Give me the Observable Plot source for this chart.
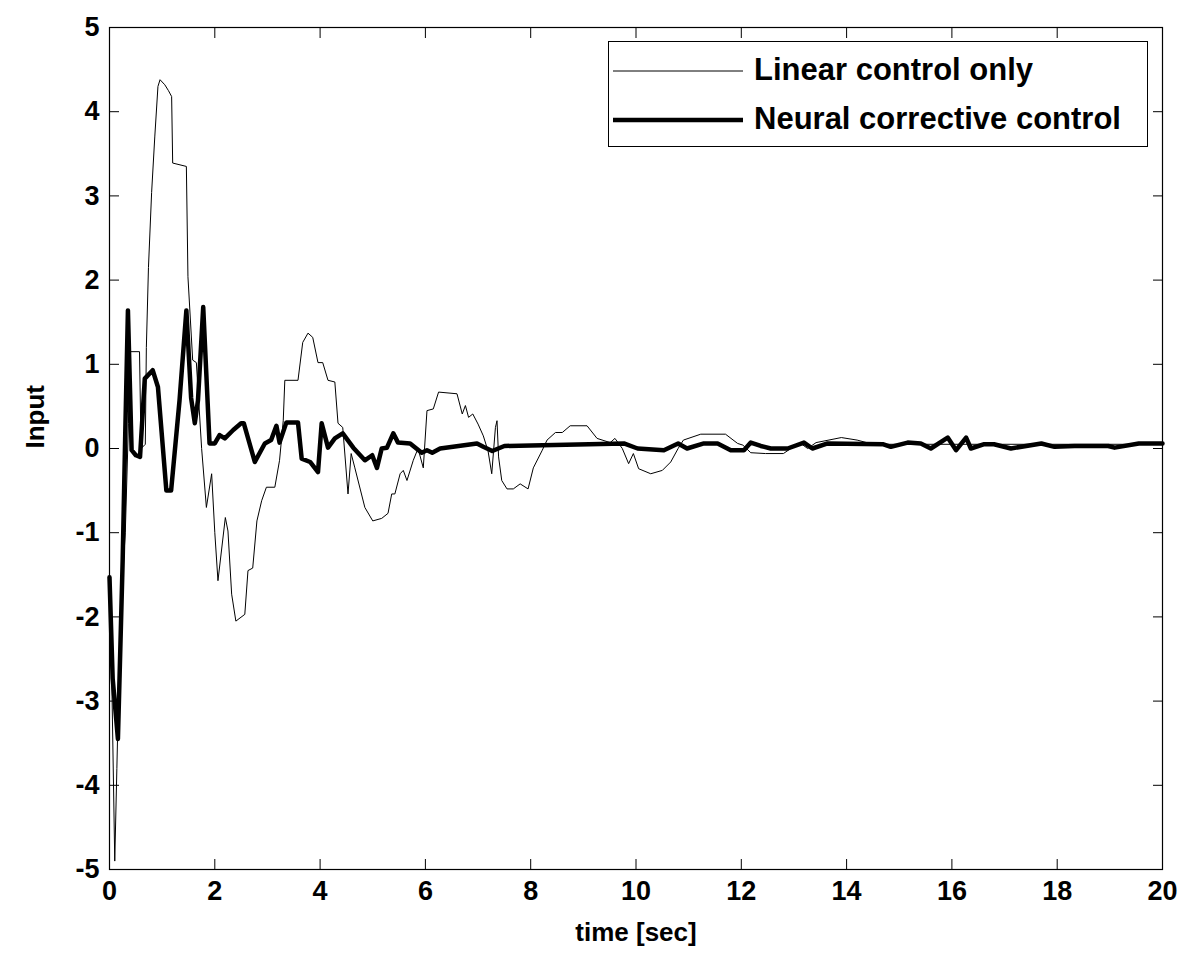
<!DOCTYPE html>
<html>
<head>
<meta charset="utf-8">
<script src="https://cdn.jsdelivr.net/npm/d3@7"></script>
<script src="https://cdn.jsdelivr.net/npm/@observablehq/plot@0.6"></script>
<style>
  html, body { margin: 0; padding: 0; background: #fff; }
  #wrap { position: relative; width: 1197px; height: 955px; }
  #legend { position: absolute; left: 608px; top: 41px; width: 538px; height: 104px;
    border: 1px solid #000; background: #fff; font-family: "Liberation Sans", Arial, sans-serif;
    font-weight: bold; font-size: 31px; color: #000; }
  .row { position: absolute; left: 0; height: 40px; width: 100%; }
  .row svg { position: absolute; left: 4px; top: 0; }
  .row span { position: absolute; left: 145px; top: 50%; transform: translateY(-52%); white-space: nowrap; }
</style>
</head>
<body>
<div id="wrap"></div>
<script>
const xTicks = [0, 2, 4, 6, 8, 10, 12, 14, 16, 18, 20];
const yTicks = [-5, -4, -3, -2, -1, 0, 1, 2, 3, 4, 5];
const seriesNames = ["Linear control only", "Neural corrective control"];

const tLinear = [0,0.05,0.1,0.14,0.19,0.24,0.3,0.36,0.38,0.57,0.6,0.68,0.7,0.74,0.8,0.86,0.92,0.96,1.05,1.12,1.18,1.2,1.46,1.49,1.58,1.65,1.75,1.84,1.94,2.0,2.06,2.2,2.25,2.32,2.4,2.57,2.63,2.72,2.8,2.89,2.98,3.14,3.23,3.3,3.33,3.58,3.67,3.77,3.86,3.96,4.05,4.15,4.28,4.34,4.43,4.53,4.59,4.66,4.85,5.0,5.17,5.29,5.36,5.42,5.52,5.58,5.65,5.77,5.86,5.96,6.03,6.15,6.25,6.6,6.7,6.76,6.82,6.9,7.0,7.1,7.19,7.26,7.33,7.36,7.39,7.45,7.55,7.67,7.8,7.95,8.05,8.22,8.31,8.47,8.6,8.75,9.07,9.26,9.51,9.6,9.74,9.86,9.95,10.05,10.28,10.5,10.66,10.8,10.9,11.23,11.7,11.93,12.03,12.18,12.46,12.8,12.94,13.13,13.26,13.42,13.9,14.2,14.5,20];
const vLinear = [-1.5,-3.0,-4.9,-3.8,-2.4,-1.6,-1.0,0.3,1.15,1.15,0.0,0.05,1.2,2.15,3.04,3.7,4.3,4.38,4.32,4.25,4.18,3.39,3.35,2.04,1.05,1.02,0.0,-0.7,-0.3,-1.0,-1.57,-0.82,-0.98,-1.73,-2.05,-1.97,-1.45,-1.42,-0.86,-0.62,-0.46,-0.46,-0.14,0.33,0.81,0.81,1.26,1.37,1.32,1.02,1.02,0.81,0.79,0.3,0.25,-0.54,-0.06,-0.23,-0.7,-0.86,-0.83,-0.77,-0.54,-0.54,-0.3,-0.26,-0.38,-0.14,0,-0.23,0.45,0.47,0.67,0.65,0.41,0.51,0.37,0.41,0.29,0.15,-0.03,-0.3,0.25,0.33,-0.1,-0.38,-0.48,-0.48,-0.42,-0.48,-0.23,-0.02,0.1,0.19,0.19,0.27,0.27,0.12,0.07,0.12,0,-0.18,-0.06,-0.24,-0.3,-0.26,-0.16,0,0.1,0.17,0.17,0.06,0.04,-0.05,-0.06,-0.06,0,0.06,0,0.07,0.13,0.1,0.05,0.05];

const tNeural = [0,0.06,0.16,0.25,0.3,0.35,0.42,0.5,0.58,0.67,0.82,0.92,1.08,1.17,1.33,1.46,1.55,1.62,1.68,1.78,1.9,2.0,2.09,2.19,2.35,2.5,2.55,2.76,2.95,3.07,3.17,3.23,3.36,3.58,3.65,3.81,3.96,4.03,4.15,4.28,4.43,4.63,4.85,4.99,5.08,5.17,5.27,5.39,5.48,5.71,5.93,6.03,6.13,6.28,6.98,7.1,7.27,7.5,9.77,10.03,10.53,10.8,10.97,11.29,11.55,11.8,12.05,12.18,12.37,12.56,12.88,13.19,13.35,13.64,14.7,14.84,15.16,15.41,15.6,15.92,16.08,16.27,16.36,16.6,16.8,17.12,17.7,17.95,18.33,18.97,19.09,19.55,20];
const vNeural = [-1.53,-2.73,-3.45,-1.33,0.2,1.64,-0.02,-0.08,-0.1,0.83,0.93,0.73,-0.5,-0.5,0.57,1.64,0.6,0.3,0.57,1.68,0.06,0.06,0.16,0.12,0.22,0.3,0.3,-0.16,0.06,0.1,0.27,0.07,0.31,0.31,-0.12,-0.16,-0.28,0.3,0.01,0.12,0.18,0.01,-0.14,-0.08,-0.23,0,0.01,0.18,0.07,0.06,-0.05,-0.02,-0.05,0,0.06,0.02,-0.03,0.03,0.06,0,-0.02,0.06,0,0.06,0.06,-0.02,-0.02,0.07,0.03,0,0,0.07,0,0.06,0.05,0.02,0.07,0.06,0,0.13,-0.02,0.13,0,0.05,0.05,0,0.06,0.02,0.03,0.03,0.01,0.06,0.06];

const linear = tLinear.map((t, i) => ({t, v: vLinear[i]}));
const neural = tNeural.map((t, i) => ({t, v: vNeural[i]}));

const font = "Liberation Sans, Arial, Helvetica, sans-serif";
const fmt = d => String(d);

const chart = Plot.plot({
  width: 1197,
  height: 955,
  marginLeft: 109,
  marginRight: 35,
  marginTop: 27,
  marginBottom: 86,
  x: {domain: [0, 20]},
  y: {domain: [-5, 5]},
  style: {fontFamily: font, fontWeight: "bold", fontSize: "27px", color: "#000", background: "#fff", overflow: "visible"},
  marks: [
    Plot.lineY(linear, {x: "t", y: "v", stroke: "#000", strokeWidth: 1}),
    Plot.lineY(neural, {x: "t", y: "v", stroke: "#000", strokeWidth: 4.5, strokeLinejoin: "round"}),
    Plot.frame({stroke: "#000", strokeWidth: 1.2}),
    Plot.axisX(xTicks, {anchor: "bottom", tickSize: 0, tickPadding: 11, tickFormat: fmt, label: null, fontSize: 27, fontWeight: "bold"}),
    Plot.axisX(xTicks, {anchor: "bottom", tickSize: -10, text: null, label: null}),
    Plot.axisX(xTicks, {anchor: "top", tickSize: -10, text: null, label: null}),
    Plot.axisY(yTicks, {anchor: "left", tickSize: 0, tickPadding: 10, tickFormat: fmt, label: null, fontSize: 27, fontWeight: "bold"}),
    Plot.axisY(yTicks, {anchor: "left", tickSize: -10, text: null, label: null}),
    Plot.axisY(yTicks, {anchor: "right", tickSize: -10, text: null, label: null}),
    Plot.text(["time [sec]"], {frameAnchor: "bottom", dy: 71, text: d => d, fontSize: 26, fontWeight: "bold"}),
    Plot.text(["Input"], {frameAnchor: "left", dx: -74, rotate: -90, text: d => d, fontSize: 26, fontWeight: "bold"})
  ]
});

const wrap = document.getElementById("wrap");
wrap.appendChild(chart);

// Legend overlay inside the axes box
const legend = document.createElement("div");
legend.id = "legend";
const widths = [1, 4.5];
seriesNames.forEach((name, i) => {
  const row = document.createElement("div");
  row.className = "row";
  row.style.top = (i === 0 ? 9 : 58) + "px";
  row.innerHTML = `<svg width="132" height="40"><line x1="0" x2="130" y1="20" y2="20" stroke="#000" stroke-width="${widths[i]}"/></svg><span>${name}</span>`;
  legend.appendChild(row);
});
wrap.appendChild(legend);
</script>
</body>
</html>
